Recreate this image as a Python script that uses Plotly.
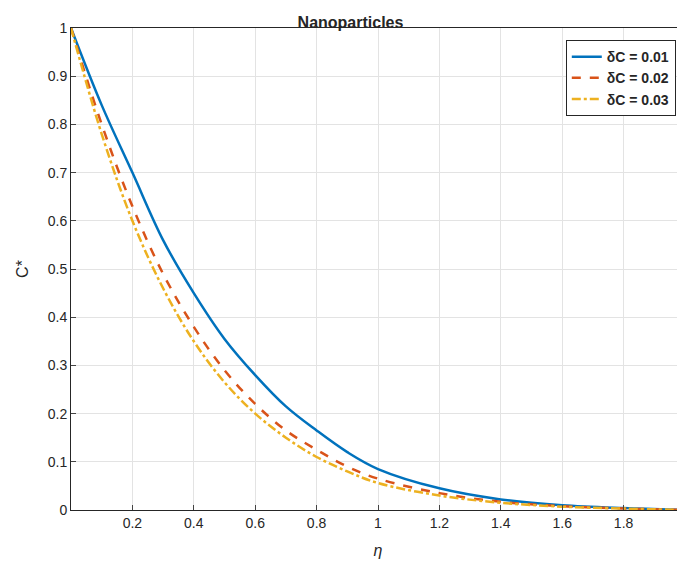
import plotly.graph_objects as go

eta = [0, 0.1, 0.2, 0.3, 0.4, 0.5, 0.6, 0.7, 0.8, 0.9, 1.0, 1.2, 1.4, 1.6, 1.8, 2.0]
c1 = [1, 0.84, 0.70, 0.56, 0.45, 0.355, 0.28, 0.215, 0.165, 0.12, 0.085, 0.045, 0.022, 0.010, 0.004, 0]
c2 = [1, 0.80, 0.63, 0.49, 0.38, 0.29, 0.22, 0.165, 0.125, 0.09, 0.065, 0.035, 0.017, 0.008, 0.003, 0]
c3 = [1, 0.78, 0.60, 0.46, 0.35, 0.265, 0.20, 0.15, 0.11, 0.08, 0.056, 0.030, 0.015, 0.007, 0.003, 0]
names = ["<b>δC = 0.01</b>", "<b>δC = 0.02</b>", "<b>δC = 0.03</b>"]
colors = ["#0072BD", "#D95319", "#EDB120"]
dashes = ["solid", "dash", "dashdot"]

fig = go.Figure()
for y, n, c, d in zip([c1, c2, c3], names, colors, dashes):
    fig.add_trace(go.Scatter(x=eta, y=y, name=n, mode="lines",
                             line=dict(color=c, dash=d, width=2.5, shape="spline")))

ax = dict(showline=True, linecolor="#262626", mirror=True, ticks="inside", ticklen=5,
          gridcolor="#e3e3e3", zeroline=False, tickfont=dict(size=14, color="#262626"))
fig.update_layout(
    width=685, height=573, plot_bgcolor="white", paper_bgcolor="white",
    font=dict(family="Arial, Liberation Sans", color="#262626"),
    margin=dict(l=63, r=8, t=20, b=71, autoexpand=False),
    title=dict(text="<b>Nanoparticles</b>", x=0.5, xanchor="center", y=0.985, font=dict(size=16)),
    xaxis=dict(range=[0, 2], tickvals=[0.2,0.4,0.6,0.8,1,1.2,1.4,1.6,1.8,2],
               title=dict(text="<i>η</i>", font=dict(size=16)), **ax),
    yaxis=dict(range=[0, 1], dtick=0.1, tickformat="~g",
               title=dict(text="C*", font=dict(size=16)), **ax),
    legend=dict(x=0.985, y=0.975, xanchor="right", yanchor="top", bordercolor="#262626",
                borderwidth=1, bgcolor="white", font=dict(size=14)),
)
fig.write_html("out.html")
